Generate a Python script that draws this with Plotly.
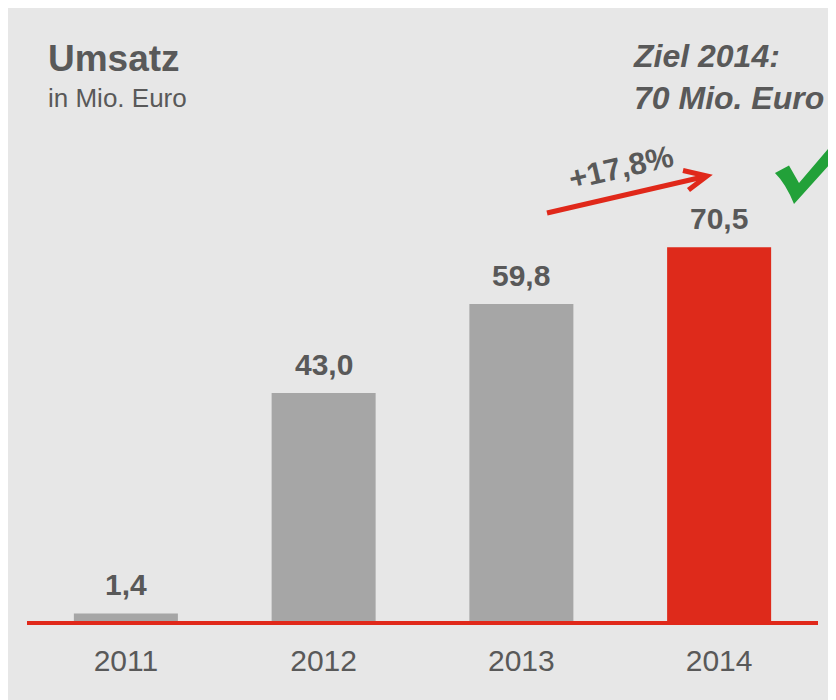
import plotly.graph_objects as go

# ---- data ----
years = ["2011", "2012", "2013", "2014"]
values = [1.4, 43.0, 59.8, 70.5]
value_labels = ["1,4", "43,0", "59,8", "70,5"]
bar_colors = ["#a6a6a6", "#a6a6a6", "#a6a6a6", "#de2a1b"]
growth_label = "+17,8%"
title_text = "Umsatz"
subtitle_text = "in Mio. Euro"
goal_text = "Ziel 2014:<br>70 Mio. Euro"

W, H = 836, 700
OFF = 8  # page body margin
ML, MR, MT, MB = 19, 26, 189, 87
PW, PH = W - ML - MR, H - MT - MB

def px(x):
    return (x - OFF - ML) / PW

def py(y):
    return (H - MB - (y - OFF)) / PH

TXT = "#595959"
FONT = "Liberation Sans, Arial, sans-serif"

fig = go.Figure()
fig.add_trace(go.Bar(
    x=years, y=values, marker=dict(color=bar_colors, line=dict(width=0)),
    width=0.526, hoverinfo="skip",
))

annotations = []
for i, (v, lab) in enumerate(zip(values, value_labels)):
    annotations.append(dict(
        x=i, y=v, xref="x", yref="y", text="<b>%s</b>" % lab, showarrow=False,
        yanchor="middle", xanchor="center", yshift=29,
        font=dict(family=FONT, size=30, color=TXT),
    ))

annotations += [
    dict(x=px(46), y=py(58), xref="paper", yref="paper", text="<b>%s</b>" % title_text,
         showarrow=False, xanchor="left", yanchor="middle",
         font=dict(family=FONT, size=37, color=TXT)),
    dict(x=px(46), y=py(98), xref="paper", yref="paper", text=subtitle_text,
         showarrow=False, xanchor="left", yanchor="middle",
         font=dict(family=FONT, size=26, color=TXT)),
    dict(x=px(631), y=py(77), xref="paper", yref="paper", text="<b><i>%s</i></b>" % goal_text,
         showarrow=False, xanchor="left", yanchor="middle", align="left",
         font=dict(family=FONT, size=32, color=TXT)),
    dict(x=px(621), y=py(167), xref="paper", yref="paper", text="<b>%s</b>" % growth_label,
         showarrow=False, xanchor="center", yanchor="middle", textangle=-13,
         font=dict(family=FONT, size=31, color=TXT)),
]

shapes = [
    # growth arrow
    dict(type="line", xref="paper", yref="paper", x0=px(547), y0=py(213), x1=px(705), y1=py(176.5),
         line=dict(color="#e0281a", width=5)),
    dict(type="path", xref="paper", yref="paper",
         path="M %f %f L %f %f L %f %f" % (px(683), py(170.5), px(707), py(176), px(688.5), py(190)),
         line=dict(color="#e0281a", width=5)),
    # check mark
    dict(type="path", xref="paper", yref="paper",
         path="M %f %f L %f %f L %f %f L %f %f L %f %f L %f %f Q %f %f %f %f Z" % (
             px(775), py(173), px(789), py(165.5), px(799), py(183), px(840), py(135),
             px(840), py(153), px(794), py(204), px(786), py(184), px(775), py(173)),
         fillcolor="#22a139", line=dict(width=0)),
]

fig.update_layout(
    width=W, height=H,
    margin=dict(l=ML, r=MR, t=MT, b=MB, pad=0),
    paper_bgcolor="#e7e7e7", plot_bgcolor="rgba(0,0,0,0)",
    showlegend=False,
    annotations=annotations, shapes=shapes,
    xaxis=dict(type="category", range=[-0.5, 3.5], showline=True, linecolor="#e0281a",
               linewidth=4, showgrid=False, zeroline=False, ticks="outside", ticklen=10,
               tickcolor="rgba(0,0,0,0)",
               tickfont=dict(family=FONT, size=30, color=TXT), fixedrange=True),
    yaxis=dict(range=[0, 80], visible=False, fixedrange=True),
)

fig.write_html("out.html")
